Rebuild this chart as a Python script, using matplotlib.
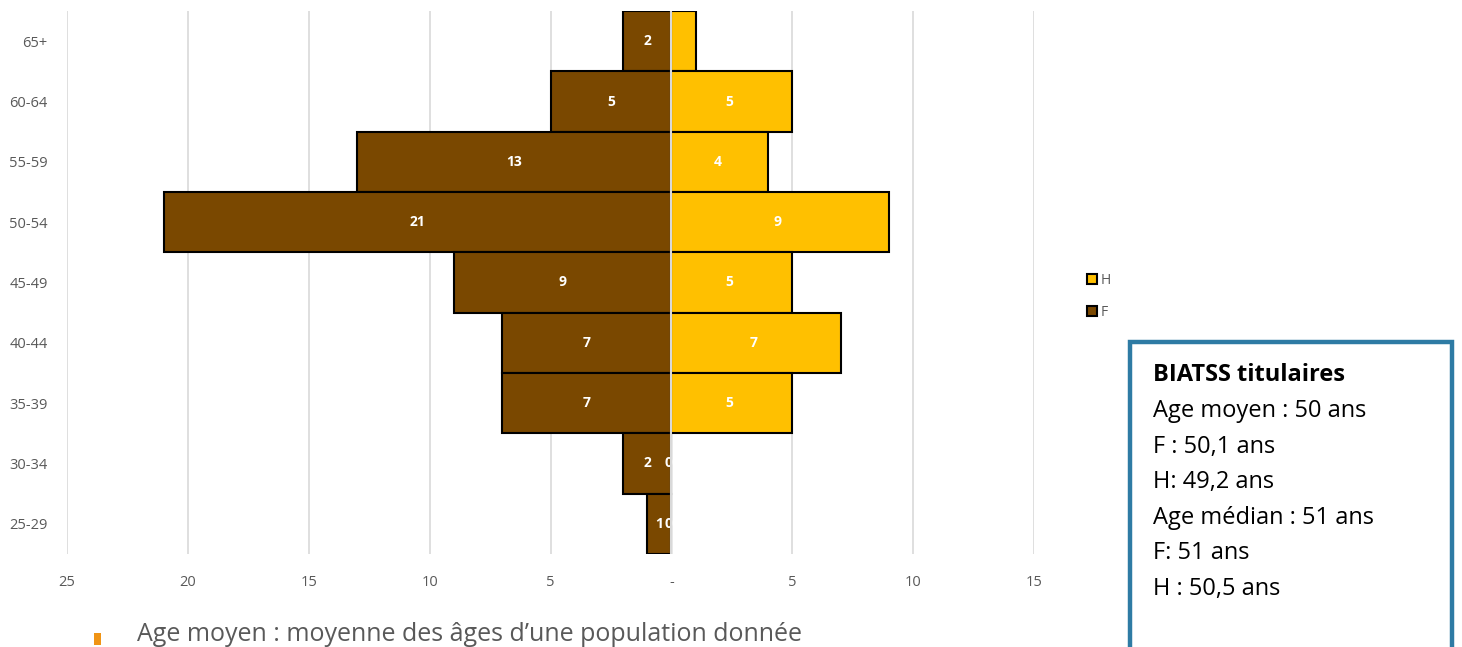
import matplotlib.pyplot as plt
from matplotlib.patches import Rectangle
import numpy as np

age_groups = ["65+", "60-64", "55-59", "50-54", "45-49", "40-44", "35-39", "30-34", "25-29"]
femmes = [2, 5, 13, 21, 9, 7, 7, 2, 1]
hommes = [1, 5, 4, 9, 5, 7, 5, 0, 0]
hommes_labels = ["", "5", "4", "9", "5", "7", "5", "0", "0"]
x_ticks = [-25, -20, -15, -10, -5, 0, 5, 10, 15]
x_tick_labels = ["25", "20", "15", "10", "5", "-", "5", "10", "15"]

box_title = "BIATSS titulaires"
box_lines = ["Age moyen : 50 ans", "F : 50,1 ans", "H: 49,2 ans",
             "Age médian : 51 ans", "F: 51 ans", "H : 50,5 ans"]
footer = "Age moyen : moyenne des âges d\u2019une population donnée"

brown = "#7A4800"
gold = "#FFC000"
grey_text = "#595959"

plt.rcParams['font.family'] = ['Open Sans', 'DejaVu Sans']

W, H = 1462, 647
fig = plt.figure(figsize=(W / 100, H / 100), dpi=100)
ax = fig.add_axes([67 / W, 1 - 554 / H, (1034 - 67) / W, (554 - 11) / H])

y = np.arange(len(age_groups))
f_vals = -np.array(femmes, dtype=float)
h_vals = np.array(hommes, dtype=float)

ax.barh(y, f_vals, height=1.0, color=brown, edgecolor="black", linewidth=1.5, zorder=2, label="F")
ax.barh(y, h_vals, height=1.0, color=gold, edgecolor="black", linewidth=1.5, zorder=2, label="H")

for i in range(len(age_groups)):
    ax.text(f_vals[i] / 2, y[i], str(femmes[i]), ha="center", va="center",
            color="white", fontsize=10, fontweight="bold", zorder=3)
    if hommes_labels[i]:
        ax.text(h_vals[i] / 2 - 0.1, y[i], hommes_labels[i], ha="center", va="center",
                color="white", fontsize=10, fontweight="bold", zorder=3)

ax.axvline(0, color="#d9d9d9", linewidth=1.5, zorder=4)

ax.set_xlim(-25, 15)
ax.set_ylim(len(age_groups) - 0.5, -0.5)
ax.set_xticks(x_ticks)
ax.set_xticklabels(x_tick_labels)
ax.set_yticks(y)
ax.set_yticklabels(age_groups)
ax.tick_params(axis="both", length=0, colors=grey_text, labelsize=10.5)
ax.tick_params(axis="x", pad=15)
ax.tick_params(axis="y", pad=14)
ax.grid(axis="x", color="#d9d9d9", linewidth=1.2, zorder=0)
ax.set_axisbelow(True)
for s in ax.spines.values():
    s.set_visible(False)

# legend
handles, labels = ax.get_legend_handles_labels()
fig.legend(handles[::-1], labels[::-1], loc="upper left", bbox_to_anchor=(1080 / W, 1 - 266 / H),
           frameon=False, fontsize=10, labelcolor=grey_text, handlelength=0.7, handleheight=0.7,
           handletextpad=0.3, labelspacing=1.2, borderpad=0)

# text box
fig.patches.append(Rectangle((1130 / W, -0.05), (1452 - 1130) / W, 0.05 + 1 - 342 / H,
                             transform=fig.transFigure, fill=False, edgecolor="#2E7BA4",
                             linewidth=3.2, figure=fig))
fig.text(1153 / W, 1 - 375 / H, box_title, fontsize=17, fontweight="bold", va="center", color="black")
for k, line in enumerate(box_lines):
    fig.text(1153 / W, 1 - (411 + k * 35.5) / H, line, fontsize=17, va="center", color="black")

# footer bullet and text
fig.patches.append(Rectangle((94 / W, 1 - 645 / H), 7 / W, 12 / H, transform=fig.transFigure,
                             facecolor="#F09415", edgecolor="none", figure=fig))
fig.text(137 / W, 1 - 622 / H, footer, fontsize=18, va="top", color=grey_text)

fig.savefig("out.png", dpi=100)
